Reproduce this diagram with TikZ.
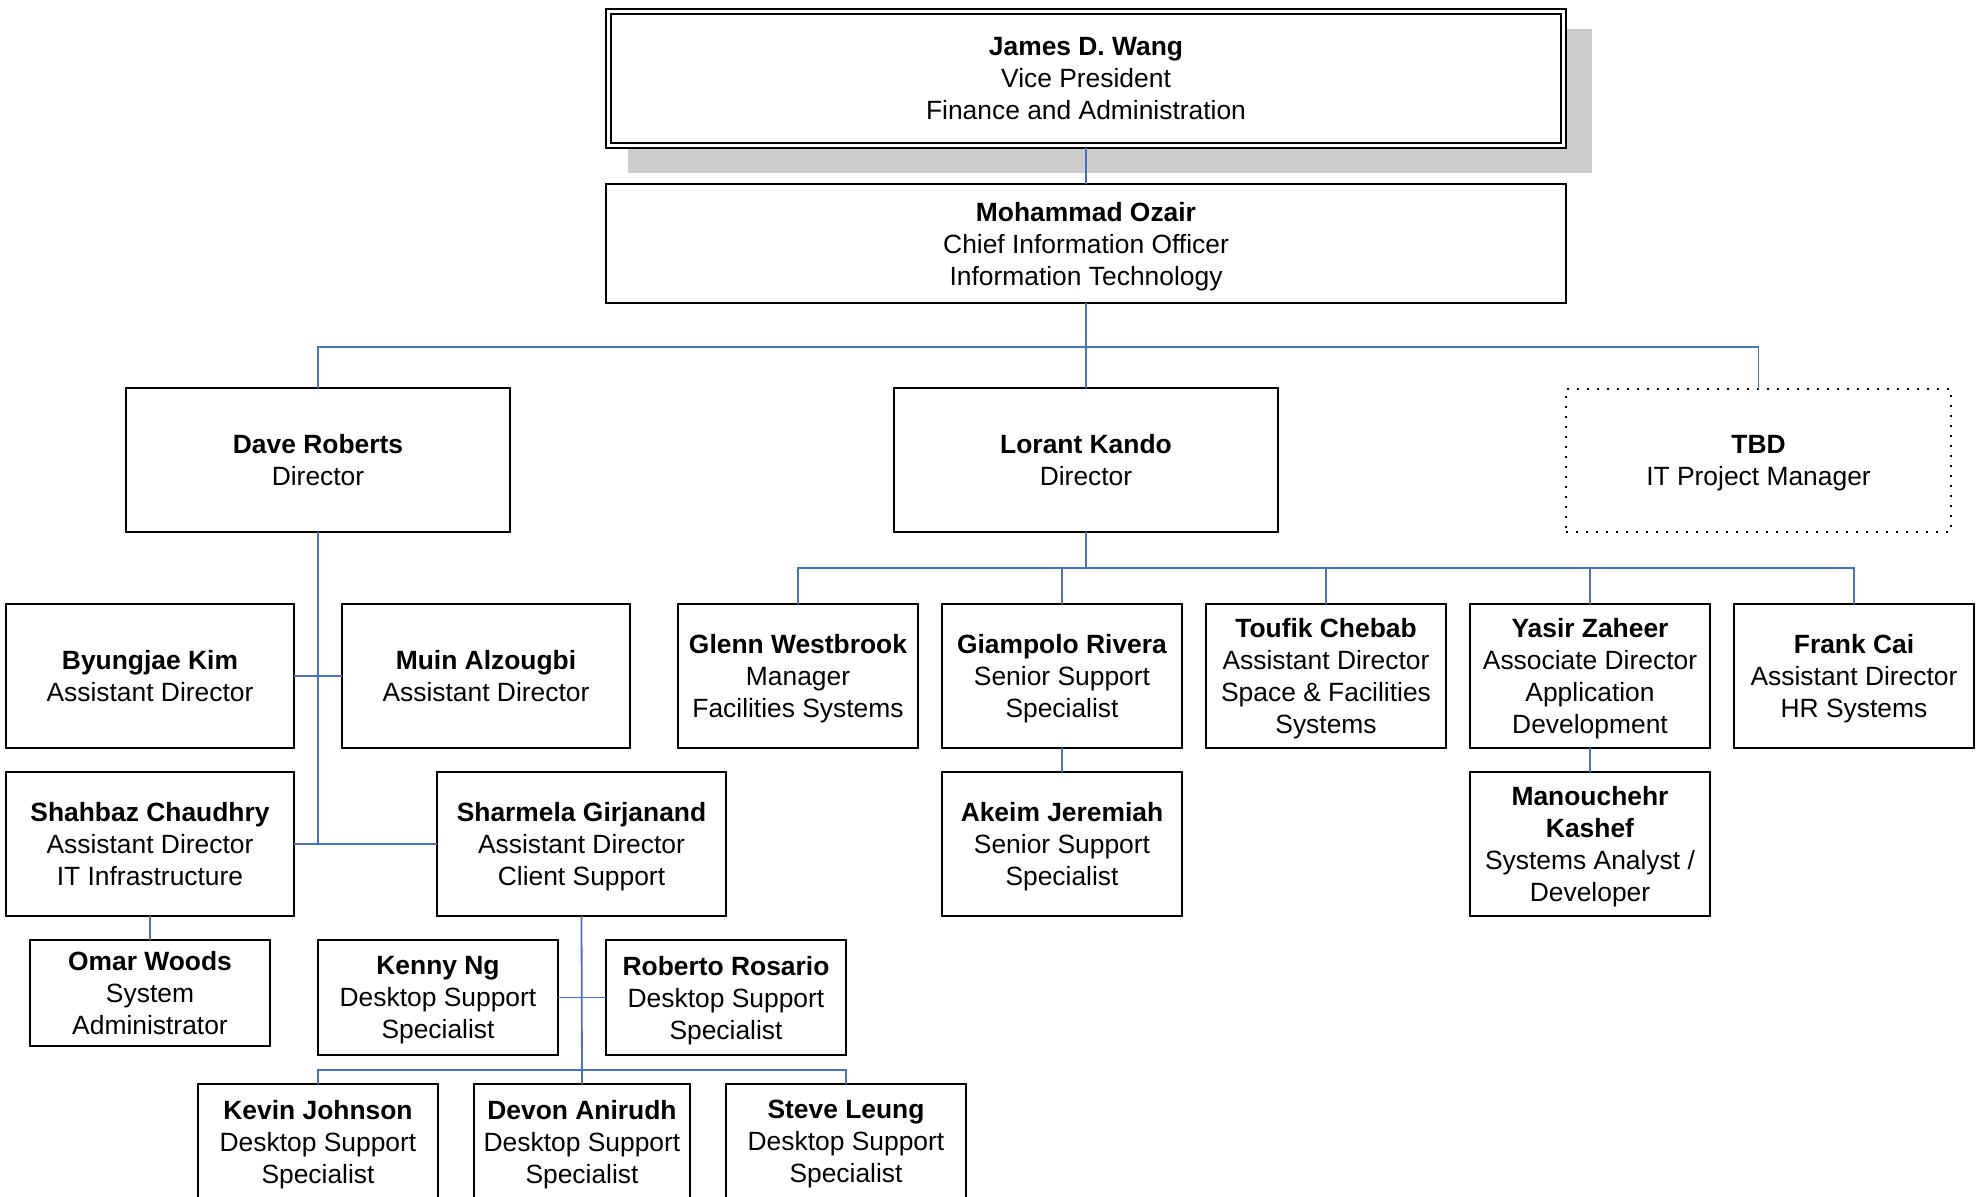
\documentclass[tikz,border=0pt]{standalone}
\usepackage{fontspec}
\setmainfont{Liberation Sans}
\definecolor{conn}{HTML}{4472C4}
\definecolor{shadowgray}{HTML}{CCCCCC}
\newcommand\orgbox[7][]{\node[orgbox,#1,minimum width={(#5-#3)*0.5pt},minimum height={(#6-#4)*0.5pt}] (#2) at ({(#3+#5)/2},{(#4+#6)/2}) {#7};}
\begin{document}
\begin{tikzpicture}[x=0.5pt,y=-0.5pt,
  orgbox/.style={draw=black,line width=0.8pt,inner sep=0pt,outer sep=0pt,align=center,
    text depth=0pt,font=\fontsize{13.2}{16}\selectfont},
  tbdbox/.style={line width=1pt,dash pattern=on 1pt off 4pt},
  link/.style={draw=conn,line width=0.9pt}]
\fill[white] (0,0) rectangle (1980,1197);
\useasboundingbox (0,0) rectangle (1980,1197);
\clip (0,0) rectangle (1980,1197);
% shadow of top box
\fill[shadowgray] (628,29) rectangle (1592,173);
\orgbox[draw=none,fill=white]{james}{606}{9}{1566}{148}{\textbf{James D. Wang}\\Vice President\\Finance and Administration}
\draw[line width=1.2pt] (james.south west) rectangle (james.north east);
\draw[line width=0.6pt] ([shift={(5,-5)}]james.south west) rectangle ([shift={(-5,5)}]james.north east);
\orgbox{moh}{606}{184}{1566}{303}{\textbf{Mohammad Ozair}\\Chief Information Officer\\Information Technology}
\orgbox{dave}{126}{388}{510}{532}{\textbf{Dave Roberts}\\Director}
\orgbox{lorant}{894}{388}{1278}{532}{\textbf{Lorant Kando}\\Director}
\orgbox[tbdbox]{tbd}{1566}{389}{1951}{532}{\textbf{TBD}\\IT Project Manager}
\orgbox{byung}{6}{604}{294}{748}{\textbf{Byungjae Kim}\\Assistant Director}
\orgbox{muin}{342}{604}{630}{748}{\textbf{Muin Alzougbi}\\Assistant Director}
\orgbox{shahbaz}{6}{772}{294}{916}{\textbf{Shahbaz Chaudhry}\\Assistant Director\\IT Infrastructure}
\orgbox{sharm}{437}{772}{726}{916}{\textbf{Sharmela Girjanand}\\Assistant Director\\Client Support}
\orgbox{omar}{30}{940}{270}{1046}{\textbf{Omar Woods}\\System\\Administrator}
\orgbox{kenny}{318}{940}{558}{1055}{\textbf{Kenny Ng}\\Desktop Support\\Specialist}
\orgbox{roberto}{606}{940}{846}{1055}{\textbf{Roberto Rosario}\\Desktop Support\\Specialist}
\orgbox{kevin}{198}{1084}{438}{1199}{\textbf{Kevin Johnson}\\Desktop Support\\Specialist}
\orgbox{devon}{474}{1084}{690}{1199}{\textbf{Devon Anirudh}\\Desktop Support\\Specialist}
\orgbox{steve}{726}{1084}{966}{1199}{\textbf{Steve Leung}\\Desktop Support\\Specialist}
\orgbox{glenn}{678}{604}{918}{748}{\textbf{Glenn Westbrook}\\Manager\\Facilities Systems}
\orgbox{giam}{942}{604}{1182}{748}{\textbf{Giampolo Rivera}\\Senior Support\\Specialist}
\orgbox{toufik}{1206}{604}{1446}{748}{\textbf{Toufik Chebab}\\Assistant Director\\Space \& Facilities\\Systems}
\orgbox{yasir}{1470}{604}{1710}{748}{\textbf{Yasir Zaheer}\\Associate Director\\Application\\Development}
\orgbox{frank}{1734}{604}{1974}{748}{\textbf{Frank Cai}\\Assistant Director\\HR Systems}
\orgbox{akeim}{942}{772}{1182}{916}{\textbf{Akeim Jeremiah}\\Senior Support\\Specialist}
\orgbox{manou}{1470}{772}{1710}{916}{\textbf{Manouchehr}\\\textbf{Kashef}\\Systems Analyst /\\Developer}
% bus coordinates
\coordinate (busA) at (1086,347);
\coordinate (busB) at (1086,568);
\coordinate (busC) at (582,1070);
% connectors
\draw[link] (james.south) -- (moh.north);
\draw[link] (moh.south) -- (lorant.north);
\draw[link] (dave.north) |- (busA) -| (tbd.north);
\draw[link] (dave.south) -- (dave.south |- shahbaz.east);
\draw[link] (byung.east) -- (muin.west);
\draw[link] (shahbaz.east) -- (sharm.west);
\draw[link] (shahbaz.south) -- (omar.north);
\draw[link] (sharm.south) -- (devon.north);
\draw[link] (kenny.east) -- (roberto.west);
\draw[link] (kevin.north) |- (busC) -| (steve.north);
\draw[link] (lorant.south) -- (busB);
\draw[link] (glenn.north) |- (busB) -| (frank.north);
\draw[link] (giam.north) -- (giam.north |- busB);
\draw[link] (toufik.north) -- (toufik.north |- busB);
\draw[link] (yasir.north) -- (yasir.north |- busB);
\draw[link] (giam.south) -- (akeim.north);
\draw[link] (yasir.south) -- (manou.north);
\end{tikzpicture}
\end{document}
